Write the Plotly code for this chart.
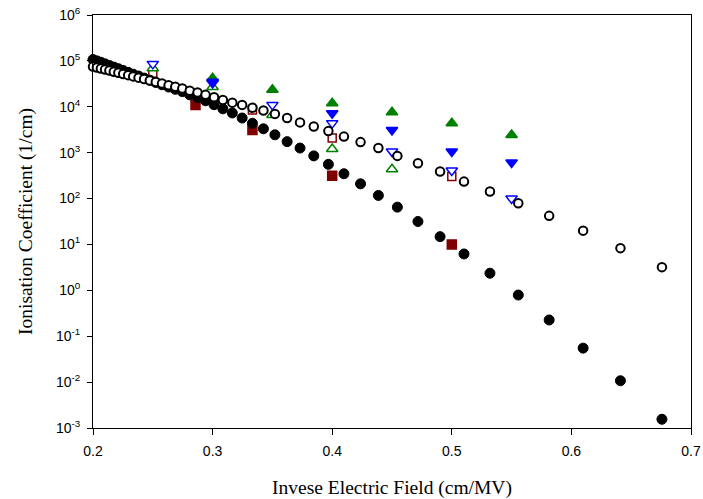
import plotly.graph_objects as go

# Inverse electric field grid (cm/MV) shared by the two circle series
x_grid = [0.2000, 0.2033, 0.2066, 0.2101, 0.2137, 0.2174, 0.2212, 0.2252, 0.2294, 0.2336,
          0.2381, 0.2427, 0.2475, 0.2525, 0.2577, 0.2632, 0.2688, 0.2747, 0.2809, 0.2874,
          0.2941, 0.3012, 0.3086, 0.3165, 0.3247, 0.3333, 0.3425, 0.3521, 0.3623, 0.3731,
          0.3846, 0.3968, 0.4098, 0.4237, 0.4386, 0.4545, 0.4717, 0.4902, 0.5102, 0.5319,
          0.5556, 0.5814, 0.6098, 0.6410, 0.6757]

filled_circle_vals = [107000, 100000, 93300, 86100, 79400, 73300, 67600, 61700, 56200, 51300,
                      46800, 42200, 38000, 33900, 30200, 26900, 24000, 21400, 18200, 15800,
                      13500, 11100, 9020, 7330, 5690, 4370, 3310, 2450, 1740, 1260,
                      851, 556, 347, 209, 117, 65, 31.6, 14.8, 6.2, 2.36,
                      0.79, 0.226, 0.055, 0.0107, 0.00155]

open_circle_vals = [75000, 71600, 68200, 64900, 61500, 58200, 55100, 52000, 48900, 45900,
                    43100, 40200, 37400, 34800, 32100, 29600, 27300, 25000, 22400, 20400,
                    18200, 16200, 14100, 12300, 11000, 9550, 8300, 7000, 5700, 4570,
                    3720, 2950, 2240, 1700, 1260, 851, 589, 389, 234, 143,
                    79, 42, 20, 8.3, 3.2]

red_filled_x = [0.2857, 0.3333, 0.4, 0.5]
red_filled_y = [11000, 3100, 315, 10]

red_open_x = [0.25, 0.3333, 0.4, 0.5]
red_open_y = [54000, 8500, 2080, 302]

green_filled_x = [0.3, 0.35, 0.4, 0.45, 0.5, 0.55]
green_filled_y = [42000, 23500, 12000, 7600, 4360, 2440]

green_open_x = [0.25, 0.3, 0.35, 0.4, 0.45]
green_open_y = [69000, 27000, 6600, 1200, 436]

blue_filled_x = [0.3, 0.4, 0.45, 0.5, 0.55]
blue_filled_y = [35000, 7200, 3100, 1060, 610]

blue_open_x = [0.25, 0.3, 0.35, 0.4, 0.45, 0.5, 0.55]
blue_open_y = [86000, 33000, 11000, 4400, 1060, 408, 100]

y_tick_vals = [1e-3, 1e-2, 1e-1, 1e0, 1e1, 1e2, 1e3, 1e4, 1e5, 1e6]
y_tick_text = ["10<sup>-3</sup>", "10<sup>-2</sup>", "10<sup>-1</sup>", "10<sup>0</sup>",
               "10<sup>1</sup>", "10<sup>2</sup>", "10<sup>3</sup>", "10<sup>4</sup>",
               "10<sup>5</sup>", "10<sup>6</sup>"]
x_tick_vals = [0.2, 0.3, 0.4, 0.5, 0.6, 0.7]
x_tick_text = ["0.2", "0.3", "0.4", "0.5", "0.6", "0.7"]

RED = "rgb(128,0,0)"
GREEN = "rgb(0,128,0)"
BLUE = "rgb(0,0,255)"

fig = go.Figure()

def add(x, y, symbol, color, fill, size, lw=1.5):
    fig.add_trace(go.Scatter(
        x=x, y=y, mode="markers", cliponaxis=False, showlegend=False,
        marker=dict(symbol=symbol, size=size,
                    color=color if fill else "white",
                    line=dict(color=color, width=lw))))

add(red_open_x, red_open_y, "square", RED, False, 8)
add(red_filled_x, red_filled_y, "square", RED, True, 9)
add(green_open_x, green_open_y, "triangle-up", GREEN, False, 10)
add(green_filled_x, green_filled_y, "triangle-up", GREEN, True, 10)
add(blue_open_x, blue_open_y, "triangle-down", BLUE, False, 10)
add(blue_filled_x, blue_filled_y, "triangle-down", BLUE, True, 10)
add(x_grid, filled_circle_vals, "circle", "black", True, 10, 1)
add(x_grid, open_circle_vals, "circle", "black", False, 8.5, 2)

fig.update_layout(
    width=703, height=499,
    margin=dict(l=93, r=12, t=15, b=71),
    paper_bgcolor="white", plot_bgcolor="white",
    font=dict(family="Liberation Sans, Arial", size=14, color="black"),
)
fig.update_xaxes(
    range=[0.2, 0.7], tickvals=x_tick_vals, ticktext=x_tick_text, automargin=False,
    showgrid=False, zeroline=False, showline=True, linecolor="black", linewidth=1,
    mirror=True, ticks="outside", ticklen=6, tickcolor="black", ticklabelstandoff=4,
    tickfont=dict(family="Liberation Sans, Arial", size=14),
    title=dict(text="Invese Electric Field (cm/MV)", standoff=22,
               font=dict(family="Liberation Serif, Times New Roman", size=19.5)),
)
fig.update_yaxes(
    type="log", range=[-3, 6], tickvals=y_tick_vals, ticktext=y_tick_text, automargin=False,
    showgrid=False, zeroline=False, showline=True, linecolor="black", linewidth=1,
    mirror=True, ticks="outside", ticklen=5, tickcolor="black", ticklabelstandoff=4,
    tickfont=dict(family="Liberation Sans, Arial", size=14),
    title=dict(text="Ionisation Coefficient (1/cm)", standoff=18,
               font=dict(family="Liberation Serif, Times New Roman", size=19.5)),
)

fig.write_html("out.html", config={"displayModeBar": False},
               post_script="document.body.style.margin='0px';")
